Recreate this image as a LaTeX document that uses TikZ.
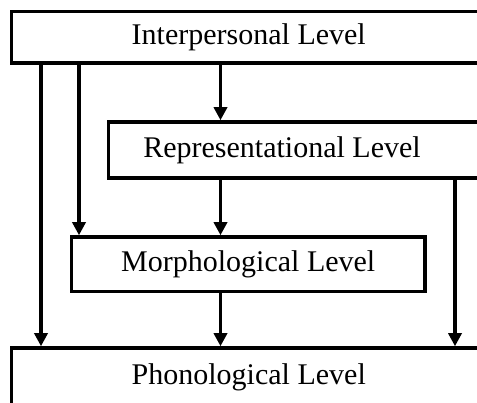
\documentclass[tikz,border=0pt]{standalone}
\usepackage{fontspec}
\setmainfont{Liberation Serif}
\usetikzlibrary{arrows.meta}
\tikzset{
	lvl/.style={draw, line width=3.5pt, inner sep=0pt, font=\fontsize{30}{36}\selectfont},
	lvltext/.style={inner sep=0pt, font=\fontsize{30}{36}\selectfont},
	down/.style={->, >={Triangle[length=13pt,width=13pt]}, line width=3.2pt}
}
\begin{document}
\begin{tikzpicture}[x=1pt,y=1pt]
			\useasboundingbox (0,0) rectangle (477,-403);
			\clip (0,0) rectangle (477,-403);
			\draw (248.75,-37.25) node[lvl, minimum width=474.5pt, minimum height=51.5pt] (IL) {Interpersonal Level};
			\draw (299,-150) node[lvl, minimum width=381.5pt, minimum height=56pt] (RL) {};
			\draw (282,-150) node[lvltext] (RLt) {Representational Level};
			\draw (248.25,-264.25) node[lvl, minimum width=353.5pt, minimum height=54.5pt] (ML) {Morphological Level};
			\draw (248.75,-377) node[lvl, minimum width=474.5pt, minimum height=58pt] (PL) {Phonological Level};
			% x positions of the arrows
			\coordinate (xa) at (41,0);
			\coordinate (xb) at (79,0);
			\coordinate (xc) at (220.5,0);
			\coordinate (xd) at (455,0);
			\draw[down] (IL.south -| xa) to (PL.north -| xa);
			\draw[down] (IL.south -| xb) to (ML.north -| xb);
			\draw[down] (IL.south -| xc) to (RL.north -| xc);
			\draw[down] (RL.south -| xc) to (ML.north -| xc);
			\draw[down] (ML.south -| xc) to (PL.north -| xc);
			\draw[down] (RL.south -| xd) to (PL.north -| xd);
		\end{tikzpicture}
\end{document}
